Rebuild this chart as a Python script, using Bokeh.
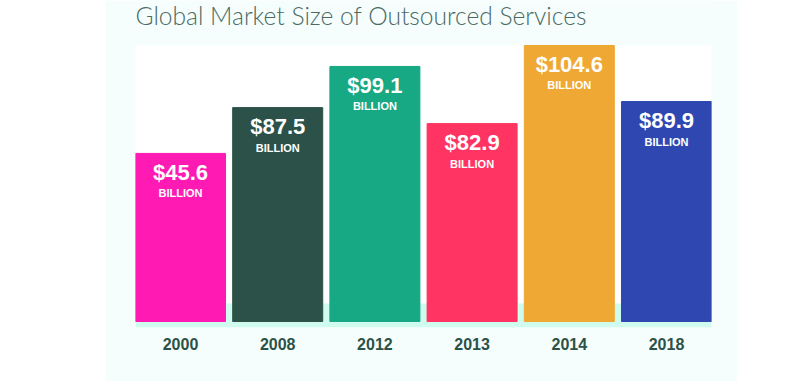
from bokeh.plotting import figure
from bokeh.models import Range1d, FixedTicker, BoxAnnotation, ColumnDataSource, Spacer, Label
from bokeh.layouts import row
from bokeh.core.properties import value
from bokeh.embed import file_html
from bokeh.resources import INLINE

years = ["2000", "2008", "2012", "2013", "2014", "2018"]
market_size_billion = [45.6, 87.5, 99.1, 82.9, 104.6, 89.9]
# drawn bar heights as read from the infographic (percent of the tallest bar)
bar_heights = [60.9, 77.5, 92.4, 71.7, 100.0, 79.7]
colors = ["#ff1ab4", "#2b5149", "#17a884", "#ff3462", "#eea833", "#2f47b0"]
title_text = "Global Market Size of Outsourced Services"

MINT = "#f6fefd"

xs = list(range(len(years)))
src = ColumnDataSource(dict(
    x=xs,
    top=bar_heights,
    color=colors,
    label=["$" + str(v) for v in market_size_billion],
    unit=["BILLION"] * len(years),
))

p = figure(
    width=632, height=381,
    frame_width=576, frame_height=327,
    min_border_left=30, min_border_right=26, min_border_top=0, min_border_bottom=54,
    x_range=Range1d(-0.463, len(years) - 1 + 0.463),
    y_range=Range1d(-2.17, 116.3),
    output_backend="svg", toolbar_location=None,
)
p.background_fill_color = MINT
p.border_fill_color = MINT
p.outline_line_color = None
p.grid.visible = False
p.yaxis.visible = False

# white plotting panel and mint base strip
p.add_layout(BoxAnnotation(bottom=6.5, top=100.0, fill_color="white", fill_alpha=1.0,
                           line_color=None, level="underlay"))
p.add_layout(BoxAnnotation(top=6.5, fill_color="#d0fcef", fill_alpha=1.0,
                           line_color=None, level="underlay"))

p.add_layout(Label(x=0, y=312, x_units="screen", y_units="screen", text=title_text,
                   text_font="Lato Light", text_font_size="24.6px", text_color="#4a6a62",
                   text_baseline="alphabetic", text_align="left"))

p.vbar(x="x", top="top", bottom=0, width=0.926, color="color", source=src)

p.text(x="x", y="top", text="label", source=src, text_align="center",
       text_baseline="alphabetic", y_offset=19, text_color="white",
       text_font=value("Liberation Sans"), text_font_style="bold",
       text_font_size="22px")
p.text(x="x", y="top", text="unit", source=src, text_align="center",
       text_baseline="alphabetic", y_offset=40, text_color="white",
       text_font=value("Liberation Sans"), text_font_style="bold",
       text_font_size="11px")

ax = p.xaxis[0]
ax.ticker = FixedTicker(ticks=xs)
ax.major_label_overrides = {i: y for i, y in zip(xs, years)}
ax.axis_line_color = None
ax.major_tick_line_color = None
ax.minor_tick_line_color = None
ax.major_label_standoff = 4
ax.major_label_text_font = "Liberation Sans"
ax.major_label_text_font_style = "bold"
ax.major_label_text_font_size = "16px"
ax.major_label_text_color = "#2b5247"

layout = row(Spacer(width=105, height=381), p)
open("out.html", "w").write(file_html(layout, INLINE))
